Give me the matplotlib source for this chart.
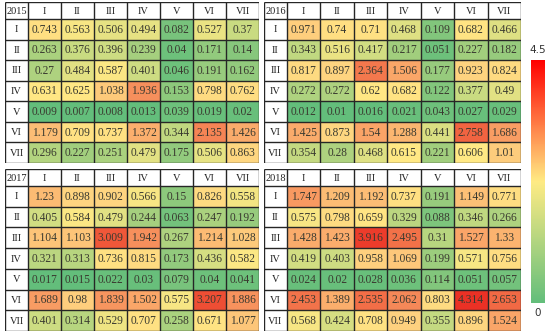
import numpy as np
import matplotlib
matplotlib.use("Agg")
import matplotlib.pyplot as plt
from matplotlib.colors import LinearSegmentedColormap, Normalize
import matplotlib.colorbar as mcolorbar

roman = ["I", "II", "III", "IV", "V", "VI", "VII"]
years = ["2015", "2016", "2017", "2018"]

v2015 = [
    [0.743, 0.563, 0.506, 0.494, 0.082, 0.527, 0.37],
    [0.263, 0.376, 0.396, 0.239, 0.04, 0.171, 0.14],
    [0.27, 0.484, 0.587, 0.401, 0.046, 0.191, 0.162],
    [0.631, 0.625, 1.038, 1.936, 0.153, 0.798, 0.762],
    [0.009, 0.007, 0.008, 0.013, 0.039, 0.019, 0.02],
    [1.179, 0.709, 0.737, 1.372, 0.344, 2.135, 1.426],
    [0.296, 0.227, 0.251, 0.479, 0.175, 0.506, 0.863],
]
v2016 = [
    [0.971, 0.74, 0.71, 0.468, 0.109, 0.682, 0.466],
    [0.343, 0.516, 0.417, 0.217, 0.051, 0.227, 0.182],
    [0.817, 0.897, 2.364, 1.506, 0.177, 0.923, 0.824],
    [0.272, 0.272, 0.62, 0.682, 0.122, 0.377, 0.49],
    [0.012, 0.01, 0.016, 0.021, 0.043, 0.027, 0.029],
    [1.425, 0.873, 1.54, 1.288, 0.441, 2.758, 1.686],
    [0.354, 0.28, 0.468, 0.615, 0.221, 0.606, 1.01],
]
v2017 = [
    [1.23, 0.898, 0.902, 0.566, 0.15, 0.826, 0.558],
    [0.405, 0.584, 0.479, 0.244, 0.063, 0.247, 0.192],
    [1.104, 1.103, 3.009, 1.942, 0.267, 1.214, 1.028],
    [0.321, 0.313, 0.736, 0.815, 0.173, 0.436, 0.582],
    [0.017, 0.015, 0.022, 0.03, 0.079, 0.04, 0.041],
    [1.689, 0.98, 1.839, 1.502, 0.575, 3.207, 1.886],
    [0.401, 0.314, 0.529, 0.707, 0.258, 0.671, 1.077],
]
v2018 = [
    [1.747, 1.209, 1.192, 0.737, 0.191, 1.149, 0.771],
    [0.575, 0.798, 0.659, 0.329, 0.088, 0.346, 0.266],
    [1.428, 1.423, 3.916, 2.495, 0.31, 1.527, 1.33],
    [0.419, 0.403, 0.958, 1.069, 0.199, 0.571, 0.756],
    [0.024, 0.02, 0.028, 0.036, 0.114, 0.051, 0.057],
    [2.453, 1.389, 2.535, 2.062, 0.803, 4.314, 2.653],
    [0.568, 0.424, 0.708, 0.949, 0.355, 0.896, 1.524],
]
panels = [v2015, v2016, v2017, v2018]

VMAX = 4.5
nodes = [
    (0.0, (99, 190, 123)),
    (0.2, (158, 205, 125)),
    (0.4, (208, 221, 130)),
    (0.6, (255, 232, 132)),
    (0.9, (254, 212, 128)),
    (1.2, (252, 188, 116)),
    (1.5, (250, 166, 104)),
    (2.0, (246, 140, 90)),
    (2.5, (242, 112, 72)),
    (3.2, (238, 78, 52)),
    (4.5, (235, 45, 35)),
]
cell_cmap = LinearSegmentedColormap.from_list(
    "cells", [(v / VMAX, tuple(c / 255 for c in col)) for v, col in nodes])
norm = Normalize(0, VMAX)

bar_cmap = LinearSegmentedColormap.from_list(
    "bar", [(0, (99/255, 190/255, 123/255)), (0.5, (255/255, 235/255, 132/255)),
            (1, (1.0, 0.0, 0.0))])

W, H = 550, 336
fig = plt.figure(figsize=(W / 100, H / 100), dpi=100)

boxes = [(5, 2, 259, 163), (264, 2, 521, 163), (5, 169, 259, 331), (264, 169, 521, 331)]
serif = ["Liberation Serif", "DejaVu Serif"]
line_c = "#262626"

for (x0, y0, x1, y1), year, vals in zip(boxes, years, panels):
    ax = fig.add_axes([x0 / W, 1 - y1 / H, (x1 - x0) / W, (y1 - y0) / H])
    pw, ph = x1 - x0, y1 - y0
    c0 = 23.0
    cw = (pw - c0) / 7
    h0 = 17.0
    rh = (ph - h0) / 7
    xe = np.array([0.0, c0] + [c0 + cw * (k + 1) for k in range(7)])
    ye = np.array([0.0, h0] + [h0 + rh * (k + 1) for k in range(7)])
    ax.set_xlim(0, pw)
    ax.set_ylim(ph, 0)
    ax.set_facecolor("white")
    arr = np.array(vals)
    ax.pcolormesh(xe[1:], ye[1:], arr, cmap=cell_cmap, norm=norm, shading="flat")
    for x in xe:
        ax.plot([x, x], [0, ph], color=line_c, lw=1.0, solid_capstyle="butt")
    for y in ye:
        ax.plot([0, pw], [y, y], color=line_c, lw=1.0, solid_capstyle="butt")
    ax.text(c0 / 2, h0 / 2 + 0.5, year, ha="center", va="center", fontsize=7.5,
            family=serif, color="#222222")
    for k, r in enumerate(roman):
        ax.text((xe[k + 1] + xe[k + 2]) / 2, h0 / 2 + 0.5, r, ha="center", va="center",
                fontsize=7.5, family=serif, color="#222222")
        ax.text(c0 / 2, (ye[k + 1] + ye[k + 2]) / 2 + 0.5, r, ha="center", va="center",
                fontsize=7.5, family=serif, color="#222222")
    for i in range(7):
        for j in range(7):
            ax.text((xe[j + 1] + xe[j + 2]) / 2, (ye[i + 1] + ye[i + 2]) / 2 + 0.5,
                    str(arr[i, j]), ha="center", va="center", fontsize=8.3,
                    family=serif, color="#3a3a30")
    for s in ax.spines.values():
        s.set_visible(False)
    ax.set_xticks([])
    ax.set_yticks([])

cax = fig.add_axes([531 / W, 1 - 303 / H, 14 / W, 243 / H])
cb = mcolorbar.ColorbarBase(cax, cmap=bar_cmap, norm=Normalize(0, VMAX), orientation="vertical")
cb.outline.set_visible(False)
cax.set_yticks([])
fig.text(538 / W, 1 - 50 / H, "4.5", ha="center", va="center", fontsize=7.5, color="#333333")
fig.text(538 / W, 1 - 313 / H, "0", ha="center", va="center", fontsize=7.5, color="#333333")

fig.savefig("out.png", dpi=100)
